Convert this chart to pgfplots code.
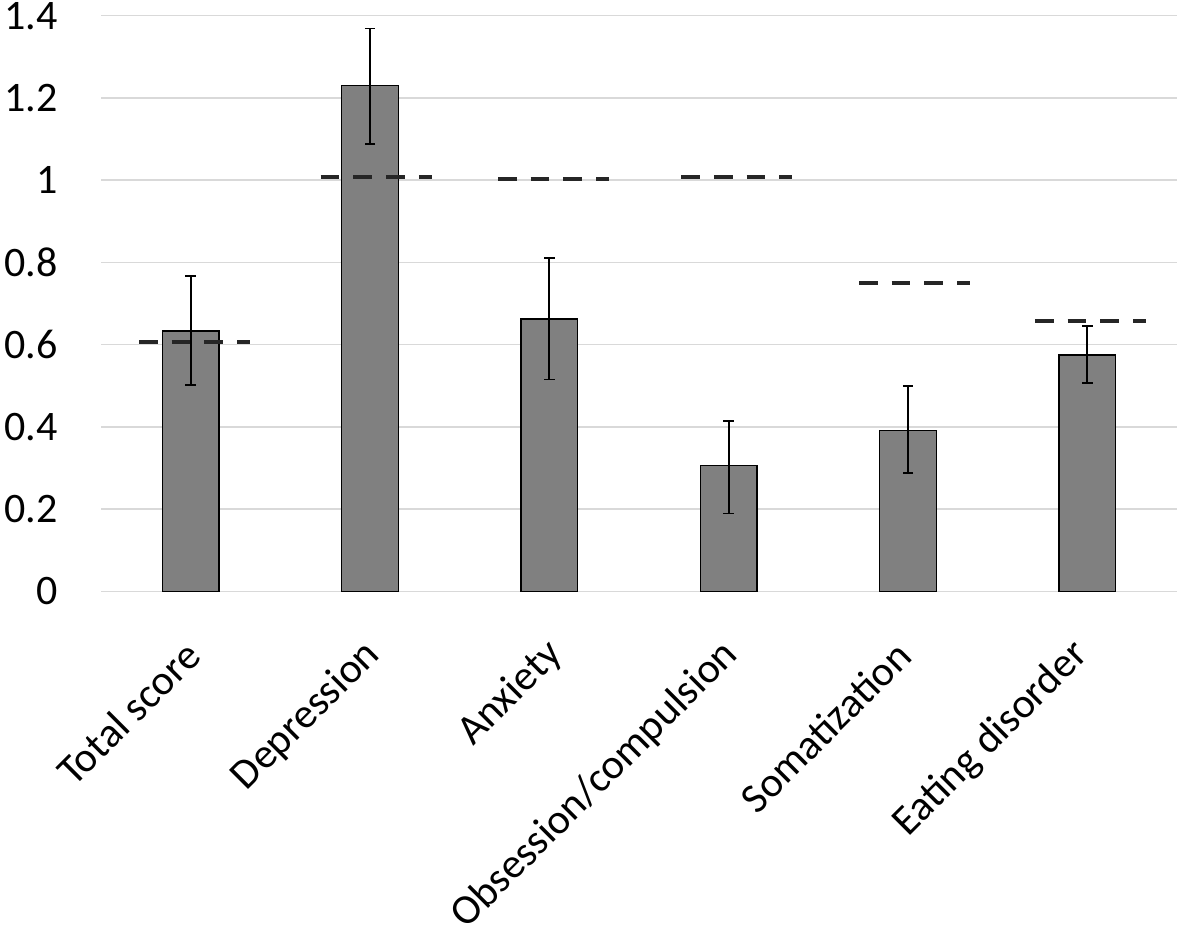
\documentclass[border=0pt]{standalone}
\usepackage{fontspec}
\setmainfont{Carlito}
\usepackage{pgfplots}
\usepackage{pgfplotstable}
\pgfplotsset{compat=1.18}
\definecolor{barg}{HTML}{808080}
\definecolor{gridg}{HTML}{D9D9D9}
\definecolor{dashg}{HTML}{262626}
\pgfplotstableread{
x y ep em
0 0.633 0.134 0.131
1 1.230 0.139 0.142
2 0.662 0.149 0.147
3 0.306 0.109 0.117
4 0.391 0.109 0.103
5 0.575 0.070 0.068
}\bars
\begin{document}
\begin{tikzpicture}
\begin{axis}[
  at={(50.5pt,170.35pt)}, anchor=south west,
  width=538pt, height=287.8pt, scale only axis,
  xmin=-0.5, xmax=5.5, ymin=0, ymax=1.4,
  ytick={0,0.2,0.4,0.6,0.8,1,1.2,1.4},
  xtick={0.015,1.022,2.037,3.019,3.978,4.970},
  xticklabels={Total score,Depression,Anxiety,Obsession/compulsion,Somatization,Eating disorder},
  ymajorgrids, xmajorgrids=false,
  grid style={draw=gridg, line width=0.75pt},
  axis line style={draw=none},
  major tick length=0pt,
  tick style={draw=none},
  /pgf/number format/assume math mode=true,
  yticklabel style={font=\fontsize{21}{25}\selectfont, anchor=east, inner sep=0pt},
  yticklabel shift=21.5pt,
  xticklabel style={font=\fontsize{21}{25}\selectfont, rotate=45, anchor=east, inner sep=0pt},
  xticklabel shift=28.5pt,
  clip=false,
]
\addplot[ybar, bar width=28.25pt, fill=barg, draw=black, line width=0.7pt,
  error bars/.cd, y dir=both, y explicit,
  error bar style={line width=0.9pt, draw=black},
  error mark options={rotate=90, draw=black, line width=0.9pt, mark size=2.6pt}]
  table[x=x, y=y, y error plus=ep, y error minus=em] {\bars};
\addplot[dashg, line width=2pt, dash pattern=on 9.35pt off 7pt] coordinates {(-0.288,0.606) (0.331,0.606)};
\addplot[dashg, line width=2pt, dash pattern=on 9.35pt off 7pt] coordinates {(0.725,1.007) (1.344,1.007)};
\addplot[dashg, line width=2pt, dash pattern=on 9.35pt off 7pt] coordinates {(1.714,1.004) (2.333,1.004)};
\addplot[dashg, line width=2pt, dash pattern=on 9.35pt off 7pt] coordinates {(2.735,1.007) (3.354,1.007)};
\addplot[dashg, line width=2pt, dash pattern=on 9.35pt off 7pt] coordinates {(3.727,0.751) (4.346,0.751)};
\addplot[dashg, line width=2pt, dash pattern=on 9.35pt off 7pt] coordinates {(4.708,0.658) (5.327,0.658)};
\end{axis}
\pgfresetboundingbox
\path[use as bounding box] (0,0) rectangle (590.5pt,466pt);
\end{tikzpicture}
\end{document}
